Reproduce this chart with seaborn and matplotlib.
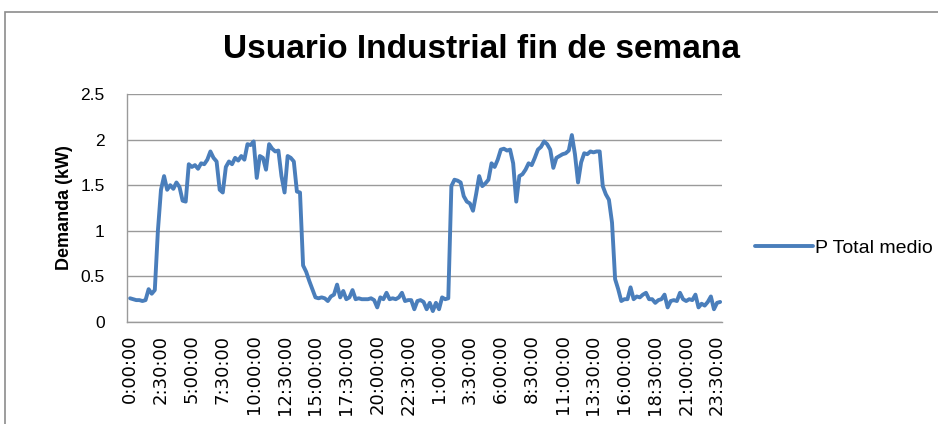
import numpy as np
import pandas as pd
import matplotlib
matplotlib.use("Agg")
import matplotlib.pyplot as plt
import seaborn as sns
from matplotlib.patches import Rectangle

# demanda media cada 15 min, sabado + domingo (kW)
demanda = [
    0.26, 0.25, 0.24, 0.24, 0.23, 0.24, 0.36, 0.31,
    0.35, 1.00, 1.45, 1.60, 1.45, 1.50, 1.46, 1.53,
    1.48, 1.33, 1.32, 1.73, 1.70, 1.72, 1.68, 1.74,
    1.73, 1.78, 1.87, 1.80, 1.76, 1.45, 1.42, 1.70,
    1.76, 1.73, 1.80, 1.77, 1.82, 1.78, 1.95, 1.94,
    1.98, 1.58, 1.82, 1.80, 1.67, 1.95, 1.90, 1.87,
    1.88, 1.60, 1.42, 1.82, 1.80, 1.76, 1.43, 1.42,
    0.62, 0.55, 0.45, 0.36, 0.27, 0.26, 0.27, 0.26,
    0.23, 0.28, 0.30, 0.41, 0.27, 0.34, 0.25, 0.27,
    0.35, 0.25, 0.26, 0.25, 0.25, 0.25, 0.26, 0.24,
    0.16, 0.27, 0.25, 0.32, 0.25, 0.26, 0.25, 0.27,
    0.32, 0.23, 0.24, 0.24, 0.14, 0.23, 0.24, 0.22,
    0.14, 0.21, 0.12, 0.21, 0.14, 0.27, 0.25, 0.26,
    1.49, 1.56, 1.55, 1.53, 1.38, 1.32, 1.30, 1.22,
    1.40, 1.60, 1.49, 1.52, 1.56, 1.74, 1.70, 1.78,
    1.89, 1.90, 1.88, 1.89, 1.74, 1.32, 1.60, 1.62,
    1.67, 1.74, 1.72, 1.80, 1.89, 1.92, 1.98, 1.95,
    1.89, 1.69, 1.80, 1.82, 1.84, 1.85, 1.88, 2.05,
    1.84, 1.53, 1.75, 1.85, 1.84, 1.87, 1.86, 1.87,
    1.87, 1.49, 1.40, 1.34, 1.09, 0.47, 0.36, 0.23,
    0.25, 0.25, 0.38, 0.25, 0.28, 0.27, 0.30, 0.32,
    0.25, 0.25, 0.21, 0.24, 0.25, 0.30, 0.16, 0.23,
    0.24, 0.23, 0.32, 0.25, 0.23, 0.25, 0.24, 0.30,
    0.16, 0.20, 0.18, 0.22, 0.28, 0.14, 0.21, 0.22,
]

etiquetas_x = [
    "0:00:00", "2:30:00", "5:00:00", "7:30:00", "10:00:00", "12:30:00",
    "15:00:00", "17:30:00", "20:00:00", "22:30:00", "1:00:00", "3:30:00",
    "6:00:00", "8:30:00", "11:00:00", "13:30:00", "16:00:00", "18:30:00",
    "21:00:00", "23:30:00",
]
ticks_y = [0, 0.5, 1, 1.5, 2, 2.5]
etiquetas_y = ["0", "0.5", "1", "1.5", "2", "2.5"]

df = pd.DataFrame({"hora": np.arange(len(demanda)) * 0.25, "demanda": demanda})

sns.set_theme(style="white")
plt.rcParams["font.family"] = ["Liberation Sans", "DejaVu Sans"]
plt.rcParams["text.color"] = "black"
plt.rcParams["axes.labelcolor"] = "black"
plt.rcParams["xtick.color"] = "black"
plt.rcParams["ytick.color"] = "black"

fig = plt.figure(figsize=(9.38, 4.24), dpi=100)
ax = fig.add_axes([127 / 938, 1 - 322 / 424, 595 / 938, 228 / 424])

sns.lineplot(data=df, x="hora", y="demanda", ax=ax, color="#4A7EBB",
             linewidth=2.8, label="P Total medio", legend=False)

ax.set_xlim(-0.25, 47.9)
ax.set_ylim(0, 2.5)
ax.set_yticks(ticks_y)
ax.set_yticklabels(etiquetas_y, fontsize=12.5)
ax.set_xticks(np.arange(len(etiquetas_x)) * 2.5)
ax.set_xticklabels(etiquetas_x, rotation=90, fontsize=13, family="DejaVu Sans")
ax.tick_params(axis="y", length=0, pad=16)
ax.tick_params(axis="x", length=0, pad=9)
ax.grid(axis="y", color="#9a9a9a", linewidth=1)
ax.set_axisbelow(True)
for s in ["top", "right"]:
    ax.spines[s].set_visible(False)
for s in ["left", "bottom"]:
    ax.spines[s].set_color("#9a9a9a")
    ax.spines[s].set_linewidth(1)
ax.set_xlabel("")
ax.set_ylabel("Demanda (kW)", fontsize=13, fontweight="bold", labelpad=5)

fig.text(481 / 938, 1 - 49 / 424, "Usuario Industrial fin de semana",
         ha="center", va="center", fontsize=24, fontweight="bold")

handles, labels = ax.get_legend_handles_labels()
fig.legend(handles, labels, loc="center left", bbox_to_anchor=(755 / 938, 1 - 248 / 424),
           frameon=False, fontsize=14, handlelength=3.0, handletextpad=0.1,
           borderaxespad=0, borderpad=0)

# borde del area del grafico
fig.patches.append(Rectangle((5 / 938, -0.1), 1.2, 1 - 12 / 424 + 0.1,
                             transform=fig.transFigure, fill=False,
                             edgecolor="#8c8c8c", linewidth=1.2))

fig.savefig("out.png", dpi=100)
